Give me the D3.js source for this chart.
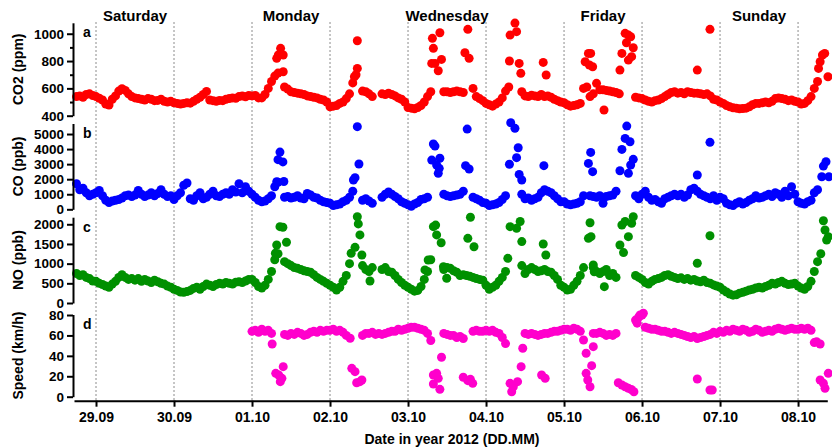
<!DOCTYPE html>
<html>
<head>
<meta charset="utf-8">
<script src="https://cdn.jsdelivr.net/npm/d3@7"></script>
<style>
body { margin: 0; background: #fff; }
svg text { font-family: "Liberation Sans", Arial, sans-serif; font-weight: bold; fill: #000; }
</style>
</head>
<body>
<svg id="chart" width="832" height="447"></svg>
<script>
// hourly samples, first one at this hour (relative to 29.09.2012 00:00)
var hourStart = -6;

var co2 = [
    540, 545, 535, 555, 560, 548,
    540, 528, 515, 485, 478, 520, 545, 580, 598, 585, 560, 540, 530, 525, 520, 515, 525, 520, 510, 512, 520, 505, 500, 505,
    495, 490, 485, 490, 495, 492, 505, 520, 535, 555, 578, 515, 510, 505, 512, 510, 520, 525, 530, 528, 540, 545, 538, 548,
    545, 548, 530, 530, 555, 600, 650, 690, 712, null, 610, 595, 575, 570, 565, 560, 555, 545, 540, 535, 530, 520, 515, 500,
    465, 470, 475, 490, 500, 525, 560, 640, 700, null, 580, 575, 560, 540, null, null, 560, 555, 565, 555, 545, 530, 520, 500,
    460, 455, 450, 460, 475, 500, 540, 575, null, null, null, 575, 575, 570, 575, 580, 575, 570, null, null, 600, 540, 525, 510,
    490, 480, 470, 485, 500, 530, 580, 610, null, null, null, 575, 545, 540, 550, 545, 540, 555, 540, 545, 535, 520, 510, 500,
    495, 480, 470, 475, 480, 490, 600, 610, 540, 560, 637, 590, 590, 585, 580, 575, 570, 560, null, null, null, null, 535, 530,
    525, 515, 505, 500, 510, 515, 525, 540, 555, 570, 575, 565, 570, 560, 575, 570, 565, 565, 560, 555, 560, 545, 520, 515,
    500, 490, 475, 465, 458, 455, 450, 452, 455, 465, 480, 490, 490, 495, 500, 495, 505, 525, 530, 525, 520, 510, 515, 505,
    500, 485, 490, 510, 540, 600, 650, null, null
];
var co2Peaks = [
    [55.6, 820], [56.1, 844], [56.8, 893], [57.6, 844], [57.6, 722],
    [79.5, 685], [80.4, 746], [80.4, 949],
    [103.3, 783], [103.5, 966], [103.8, 893], [104.3, 783], [105.3, 729], [105.8, 1007], [106.3, 812],
    [113.5, 861], [114.4, 1032], [114.8, 820],
    [127.2, 800], [127.4, 990], [128.9, 1078], [129.4, 1015], [130.2, 783], [130.7, 710],
    [137.6, 790], [138.5, 698],
    [150.5, 795], [151.5, 856], [151.8, 771], [152.2, 856], [152.8, 758], [156.3, 442],
    [161.2, 734], [161.8, 856], [162.8, 1003], [163.2, 934], [163.8, 990], [163.8, 807], [164.5, 978], [164.8, 832], [165.3, 897],
    [185, 734], [188.9, 1032],
    [222.3, 746], [222.8, 795], [223.5, 844], [224.2, 856], [225.2, 685]
];

var co = [
    1700, 1300, 1400, 1100, 900, 1000,
    1100, 1250, 900, 600, 450, 550, 600, 650, 750, 900, 950, 850, 950, 1250, 1000, 850, 950, 1100, 900, 1050, 1300, 1000, 850, 900,
    650, 900, 1100, 1600, 1750, 700, 600, 900, 1100, 700, 800, 1000, 1200, 900, 850, 1000, 1100, 1000, 1300, 1150, 1700, 1100, 1500, 1200,
    1000, 800, 600, 500, 550, 700, 900, 1500, 1800, null, 800, 850, 750, 800, 900, 750, 700, 1050, 950, 800, 750, 600, 500, 450,
    400, 250, 300, 350, 500, 600, 800, 1200, null, null, 600, 700, 550, 400, null, null, 800, 1000, 1150, 1000, 850, 700, 500, 400,
    300, 200, 350, 450, 650, 700, 800, null, null, null, null, 1000, 900, 850, 900, 950, 1000, 1200, null, null, 800, 700, 600, 450,
    400, 250, 300, 350, 450, 650, 900, null, null, null, null, 1000, 700, 750, 600, 700, 800, 1100, 1300, 1200, 1100, 900, 700, 500,
    500, 350, 300, 350, 400, 500, 900, null, 900, 850, 800, 900, 400, 850, 900, 950, 1200, null, null, null, null, null, 900, 700,
    1000, 1200, 800, 600, 650, 500, 400, 700, 800, 900, 1000, 900, 1000, 800, 950, 1300, 1400, 1200, 1000, 900, 800, 700, 900, 600,
    800, 700, 400, 300, 250, 400, 500, 350, 450, 600, 700, 900, 750, 800, 900, 1000, 850, 1100, 1000, 800, 1200, 900, 1500, 1000,
    500, 400, 350, 500, 600, 1100, 1300, null, null
];
var coPeaks = [
    [55.6, 1830], [56, 3300], [56.6, 3800], [57.5, 3150], [57.8, 1850],
    [79.2, 1950], [79.7, 2100], [80.4, 5490], [80.9, 3010],
    [103.3, 3270], [103.8, 4340], [104.3, 4200], [104.8, 2940], [105.3, 2390], [105.6, 2720], [105.8, 3390],
    [113.7, 2900], [114.2, 5330], [114.8, 2680],
    [127.2, 2990], [127.6, 5750], [128.9, 5380], [129.4, 3430], [129.9, 4090], [130.2, 2320], [131, 1950],
    [137.8, 2900],
    [151.5, 3050], [152.2, 3780], [152.8, 2500],
    [161.2, 2560], [161.8, 3980], [162.8, 4710], [163.3, 5530], [163.8, 2390], [164.3, 4490], [164.5, 2940], [165.3, 3320],
    [185, 2280], [188.9, 4450],
    [223.3, 2160], [223.8, 2870], [224.6, 3160], [225.5, 2160]
];

var no = [
    750, 700, 720, 650, 620, 560,
    550, 500, 470, 430, 400, 480, 550, 650, 720, 650, 600, 620, 580, 620, 550, 600, 560, 520, 580, 540, 500, 480, 430, 400,
    350, 320, 280, 270, 290, 320, 370, 400, 350, 420, 480, 450, 420, 470, 500, 480, 520, 500, 480, 530, 540, 520, 560, 600,
    600, 520, 420, 380, 450, 600, 800, 1100, 1250, null, 1050, 1000, 950, 900, 880, 850, 820, 800, 780, 720, 650, 600, 550, 500,
    450, 400, 330, 400, 550, 700, 1000, null, null, null, 950, 850, 800, 900, null, null, 850, 900, 800, 780, 700, 600, 520, 450,
    400, 350, 300, 320, 420, 600, 800, 1100, null, null, null, 850, 900, 880, 820, 780, 700, 720, 700, 680, 650, 620, 600, 580,
    450, 350, 400, 450, 550, 650, 800, null, null, null, null, 950, 750, 850, 900, 850, 800, 820, 850, 800, 780, 700, 600, 450,
    400, 330, 350, 450, 550, 700, 900, null, null, 900, 800, 750, 800, 850, 700, 750, 650, null, null, null, null, null, 700, 650,
    600, 520, 480, 550, 600, 620, 650, 700, 720, 680, 650, 620, 640, 600, 620, 580, 600, 560, 540, 580, 520, 500, 460, 430,
    400, 330, 280, 230, 200, 210, 250, 270, 300, 330, 350, 380, 400, 380, 420, 450, 500, 480, 520, 550, 500, 470, 480, 500,
    430, 380, 350, 420, 550, 800, 1050, 1250, null
];
var noPeaks = [
    [55.2, 1263], [55.6, 1474], [56.6, 1940], [57.5, 1924], [58.6, 1543],
    [78.5, 1263], [79.7, 1415], [80.4, 2190], [80.7, 2010], [81.2, 1730], [81.8, 1220], [84.3, 560],
    [101.2, 840], [102.2, 1093], [103.8, 1940], [104.5, 1980], [104.8, 1730], [106.2, 1530], [106.9, 923], [107.9, 628],
    [114.4, 1643], [115.2, 2180], [116.3, 1430],
    [126.7, 1135], [127.4, 1940], [129.4, 1900], [130.5, 2070], [131, 1560],
    [137.6, 1500], [138.4, 1220],
    [151.5, 1643], [152, 2040], [152.3, 1685], [153, 966], [153.3, 795], [156.4, 415],
    [161.2, 1474], [161.8, 1982], [162.3, 1280], [162.8, 2070], [163.8, 1685], [164.8, 2025], [165.3, 2190],
    [185, 1010], [188.9, 1710],
    [223.8, 2090], [224.3, 1855], [224.8, 1600], [225.3, 1685]
];

var speed = [
    null, null, null, null, null, null,
    null, null, null, null, null, null, null, null, null, null, null, null, null, null, null, null, null, null, null, null, null, null, null, null,
    null, null, null, null, null, null, null, null, null, null, null, null, null, null, null, null, null, null, null, null, null, null, null, null,
    64, 65, 63, 66, 64, 65, 62, null, null, null, 61, 60, 62, 61, 63, 62, 60, 61, 63, 64, 63, 65, 64, 65,
    65, 66, 64, 65, 63, 60, null, null, null, null, 60, 62, 62, 63, 61, 62, 61, 62, 63, 64, 64, 66, 65, 66,
    67, 68, 68, 67, 66, 65, 62, 55, null, null, null, 62, 61, 60, 60, 58, 59, 57, null, null, 64, 65, 64, 64,
    65, 64, 65, 63, 62, 58, 52, null, null, null, null, null, 62, 61, 62, 61, 60, 61, 62, 62, 63, 64, 64, 65,
    66, 66, 65, 67, 66, 64, null, null, null, 62, 62, 63, 62, 60, 61, 60, 62, null, null, null, null, null, 75, 78,
    80, 68, 67, 66, 66, 65, 64, 64, 63, 62, 63, 62, 61, 60, 59, 58, 59, 57, 58, 59, 60, 61, 63, 62,
    64, 63, 65, 64, 66, 65, 64, 66, 65, 63, 64, 66, 65, 63, 64, 65, 64, 66, 67, 66, 65, 66, 67, 66,
    66, 67, 66, 67, 65, 53, null, null, null
];
var speedDrops = [
    [54.2, 51.6], [55.3, 22.9], [56.2, 21.2], [56.7, 14.7], [57.2, 18], [57.6, 29.4],
    [78.2, 57.2], [78.7, 27.8], [79.7, 24.5], [80.2, 13.7], [81.2, 14.7], [81.8, 16.4],
    [103.8, 21.2], [104.8, 22.9], [103.8, 12.4], [105.3, 18], [105.8, 7.2], [106.3, 38.6],
    [113, 19], [114.4, 15.7], [115.2, 17], [115.9, 13.1],
    [127.4, 13.1], [127.9, 4.9], [128.4, 9.8], [129.7, 14.7], [130.8, 29.4], [131.3, 47.4],
    [137.1, 21.2], [138.2, 18],
    [150, 55.5], [150.8, 42.5], [150.8, 22.9], [151.3, 16.4], [152, 9.8], [152.5, 30.4], [153, 49],
    [160.7, 13.7], [161.8, 11.5], [162.8, 9.8], [163.8, 8.2], [164.7, 7], [165.5, 4.9],
    [166.5, 72], [167.4, 80], [168.4, 81.7],
    [185, 17.3], [188.9, 6.6], [189.6, 6.6],
    [221.7, 53.9], [222.8, 51.6], [222.8, 16.4], [223.8, 13.1], [224.3, 8.2], [225.3, 22.9]
];

var dayNames = ["Saturday", "Monday", "Wednesday", "Friday", "Sunday"];
var dayNameDays = [0, 2, 4, 6, 8]; // days after 29.09

var origin = Date.UTC(2012, 8, 29);
function toDate(h) { return new Date(origin + h * 3600e3); }

var svg = d3.select("#chart");

var x = d3.scaleUtc()
    .domain([toDate(-6.77), toDate(225)])
    .range([74, 827.3]);

var panels = [
    {letter: "a", label: "CO2 (ppm)", color: "#ff0000", base: co2, extra: co2Peaks,
     domain: [400, 1080], range: [115.7, 22.8], ticks: [400, 600, 800, 1000], minor: [500, 700, 900]},
    {letter: "b", label: "CO (ppb)", color: "#0000ff", base: co, extra: coPeaks,
     domain: [0, 5700], range: [209.3, 123.5], ticks: [0, 1000, 2000, 3000, 4000, 5000], minor: []},
    {letter: "c", label: "NO (ppb)", color: "#009000", base: no, extra: noPeaks,
     domain: [0, 2180], range: [303, 217.2], ticks: [0, 500, 1000, 1500, 2000], minor: []},
    {letter: "d", label: "Speed (km/h)", color: "#ff00cc", base: speed, extra: speedDrops,
     domain: [0, 80.5], range: [396.7, 314.5], ticks: [0, 20, 40, 60, 80], minor: []}
];

// day grid lines
var days = d3.utcDay.range(toDate(0), toDate(226));
svg.append("g").selectAll("line").data(days).enter().append("line")
    .attr("x1", function(d) { return x(d); })
    .attr("x2", function(d) { return x(d); })
    .attr("y1", 22).attr("y2", 400)
    .attr("stroke", "#8c8c8c").attr("stroke-width", 1).attr("stroke-dasharray", "2,2");

// day names
svg.append("g").selectAll("text").data(dayNames).enter().append("text")
    .attr("x", function(d, i) { return x(toDate(dayNameDays[i] * 24 + 12)); })
    .attr("y", 21)
    .attr("text-anchor", "middle")
    .style("font-size", "15px")
    .text(function(d) { return d; });

panels.forEach(function(p) {
    var y = d3.scaleLinear().domain(p.domain).range(p.range);

    var pts = [];
    p.base.forEach(function(v, i) { if (v != null) pts.push({t: hourStart + i, v: v}); });
    p.extra.forEach(function(e) { pts.push({t: e[0], v: e[1]}); });

    svg.append("g").selectAll("circle").data(pts).enter().append("circle")
        .attr("cx", function(d) { return x(toDate(d.t)); })
        .attr("cy", function(d) { return y(d.v); })
        .attr("r", 4.5)
        .attr("fill", p.color);

    var ax = svg.append("g").attr("transform", "translate(73,0)")
        .call(d3.axisLeft(y).tickValues(p.ticks).tickFormat(d3.format("d"))
            .tickSize(6).tickSizeOuter(0).tickPadding(3));
    ax.select(".domain").attr("stroke-width", 2);
    ax.selectAll(".tick line").attr("stroke-width", 2);
    ax.selectAll(".tick text").style("font-size", "13.5px");

    if (p.minor.length) {
        svg.append("g").attr("transform", "translate(73,0)")
            .call(d3.axisLeft(y).tickValues(p.minor).tickSize(3).tickSizeOuter(0).tickFormat(""))
            .call(function(g) { g.select(".domain").remove(); })
            .selectAll(".tick line").attr("stroke-width", 2);
    }

    var mid = (p.range[0] + p.range[1]) / 2;
    svg.append("text")
        .attr("transform", "translate(18," + mid + ") rotate(-90)")
        .attr("text-anchor", "middle")
        .attr("dy", "0.35em")
        .style("font-size", "14px")
        .text(p.label);

    svg.append("text")
        .attr("x", 83)
        .attr("y", p.range[1] + 14.5)
        .style("font-size", "14px")
        .text(p.letter);
});

// time axis
var xa = svg.append("g").attr("transform", "translate(0,400.7)")
    .call(d3.axisBottom(x).ticks(d3.utcDay.every(1)).tickFormat(d3.utcFormat("%d.%m"))
        .tickSize(6).tickSizeOuter(0).tickPadding(5));
xa.select(".domain").attr("stroke-width", 2);
xa.selectAll(".tick line").attr("stroke-width", 2);
xa.selectAll(".tick text").style("font-size", "14px");

svg.append("text")
    .attr("x", 452).attr("y", 444)
    .attr("text-anchor", "middle")
    .style("font-size", "14px")
    .text("Date in year 2012 (DD.MM)");
</script>
</body>
</html>
